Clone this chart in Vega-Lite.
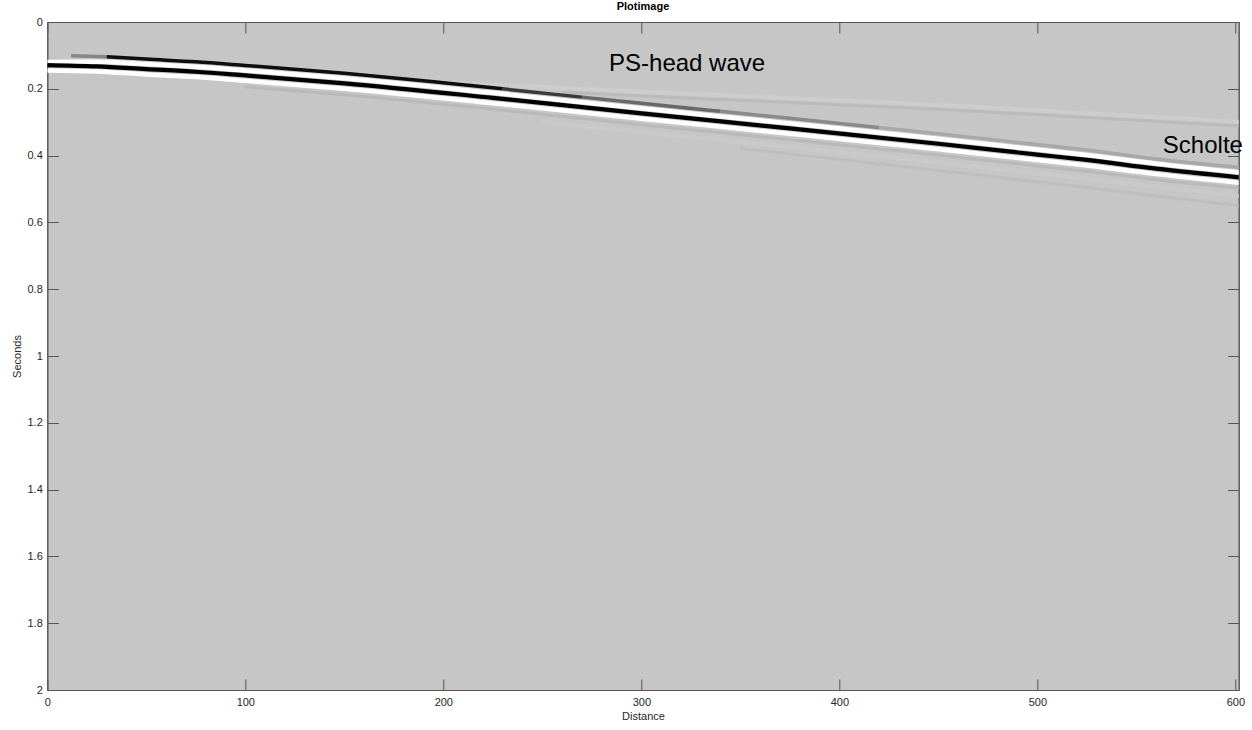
{
  "$schema": "https://vega.github.io/schema/vega-lite/v6.json",
  "autosize": {"type": "none"},
  "padding": {"left": 47.3, "top": 22, "right": 13.3, "bottom": 40},
  "width": 1191.4,
  "height": 668,
  "background": "white",
  "config": {
    "view": {"fill": "#c6c6c6", "stroke": "#555555", "strokeWidth": 1},
    "font": "Liberation Sans"
  },
  "title": {"text": "Plotimage", "fontSize": 11, "fontWeight": "bold", "font": "Liberation Sans", "color": "#000000", "offset": 4, "anchor": "middle"},
  "datasets": {
    "bands": [
      {"b": "main", "a": 1, "x": 0, "t": 0.129}, {"b": "main", "a": 1, "x": 25, "t": 0.133}, {"b": "main", "a": 1, "x": 50, "t": 0.141}, {"b": "main", "a": 1, "x": 75, "t": 0.149}, {"b": "main", "a": 1, "x": 100, "t": 0.16}, {"b": "main", "a": 1, "x": 150, "t": 0.1835}, {"b": "main", "a": 1, "x": 225, "t": 0.227}, {"b": "main", "a": 1, "x": 300, "t": 0.2735}, {"b": "main", "a": 1, "x": 375, "t": 0.3185}, {"b": "main", "a": 1, "x": 450, "t": 0.3645}, {"b": "main", "a": 1, "x": 500, "t": 0.397}, {"b": "main", "a": 1, "x": 525, "t": 0.413}, {"b": "main", "a": 1, "x": 560, "t": 0.439}, {"b": "main", "a": 1, "x": 602, "t": 0.465},
      {"b": "wlow", "a": -1, "x": 0, "t": 0.1455}, {"b": "wlow", "a": -1, "x": 25, "t": 0.1485}, {"b": "wlow", "a": -1, "x": 50, "t": 0.157}, {"b": "wlow", "a": -1, "x": 75, "t": 0.165}, {"b": "wlow", "a": -1, "x": 100, "t": 0.1762}, {"b": "wlow", "a": -1, "x": 150, "t": 0.1998}, {"b": "wlow", "a": -1, "x": 225, "t": 0.2433}, {"b": "wlow", "a": -1, "x": 300, "t": 0.2898}, {"b": "wlow", "a": -1, "x": 375, "t": 0.3348}, {"b": "wlow", "a": -1, "x": 450, "t": 0.381}, {"b": "wlow", "a": -1, "x": 500, "t": 0.4135}, {"b": "wlow", "a": -1, "x": 525, "t": 0.4295}, {"b": "wlow", "a": -1, "x": 560, "t": 0.4555}, {"b": "wlow", "a": -1, "x": 602, "t": 0.4815},
      {"b": "wup", "a": -1, "x": 0, "t": 0.1195}, {"b": "wup", "a": -1, "x": 25, "t": 0.119}, {"b": "wup", "a": -1, "x": 50, "t": 0.126}, {"b": "wup", "a": -1, "x": 75, "t": 0.134}, {"b": "wup", "a": -1, "x": 100, "t": 0.145}, {"b": "wup", "a": -1, "x": 150, "t": 0.1685}, {"b": "wup", "a": -1, "x": 225, "t": 0.212}, {"b": "wup", "a": -1, "x": 300, "t": 0.2585}, {"b": "wup", "a": -1, "x": 375, "t": 0.3035}, {"b": "wup", "a": -1, "x": 450, "t": 0.3495}, {"b": "wup", "a": -1, "x": 500, "t": 0.382}, {"b": "wup", "a": -1, "x": 525, "t": 0.398}, {"b": "wup", "a": -1, "x": 560, "t": 0.424}, {"b": "wup", "a": -1, "x": 602, "t": 0.45},
      {"b": "uppr", "a": 0.3, "x": 12, "t": 0.101}, {"b": "uppr", "a": 0.3, "x": 30, "t": 0.104},
      {"b": "uppr", "a": 0.95, "x": 30, "t": 0.104}, {"b": "uppr", "a": 0.95, "x": 50, "t": 0.111}, {"b": "uppr", "a": 0.95, "x": 75, "t": 0.119}, {"b": "uppr", "a": 0.95, "x": 100, "t": 0.13}, {"b": "uppr", "a": 0.95, "x": 150, "t": 0.1535}, {"b": "uppr", "a": 0.95, "x": 200, "t": 0.182}, {"b": "uppr", "a": 0.95, "x": 230, "t": 0.2001},
      {"b": "uppr", "a": 0.7, "x": 230, "t": 0.2001}, {"b": "uppr", "a": 0.7, "x": 270, "t": 0.2249},
      {"b": "uppr", "a": 0.45, "x": 270, "t": 0.2249}, {"b": "uppr", "a": 0.45, "x": 300, "t": 0.2435}, {"b": "uppr", "a": 0.45, "x": 340, "t": 0.2675},
      {"b": "uppr", "a": 0.28, "x": 340, "t": 0.2675}, {"b": "uppr", "a": 0.28, "x": 375, "t": 0.2885}, {"b": "uppr", "a": 0.28, "x": 420, "t": 0.3161},
      {"b": "uppr", "a": 0.14, "x": 420, "t": 0.3161}, {"b": "uppr", "a": 0.14, "x": 450, "t": 0.3345}, {"b": "uppr", "a": 0.14, "x": 500, "t": 0.367}, {"b": "uppr", "a": 0.14, "x": 525, "t": 0.383}, {"b": "uppr", "a": 0.14, "x": 560, "t": 0.41}, {"b": "uppr", "a": 0.14, "x": 602, "t": 0.435},
      {"b": "psL", "a": -0.13, "x": 200, "t": 0.18}, {"b": "psL", "a": -0.13, "x": 230, "t": 0.189}, {"b": "psL", "a": -0.13, "x": 300, "t": 0.2085}, {"b": "psL", "a": -0.13, "x": 375, "t": 0.228}, {"b": "psL", "a": -0.13, "x": 450, "t": 0.2485}, {"b": "psL", "a": -0.13, "x": 525, "t": 0.273}, {"b": "psL", "a": -0.13, "x": 602, "t": 0.2985},
      {"b": "psD", "a": 0.05, "x": 260, "t": 0.2103}, {"b": "psD", "a": 0.05, "x": 300, "t": 0.2215}, {"b": "psD", "a": 0.05, "x": 375, "t": 0.241}, {"b": "psD", "a": 0.05, "x": 450, "t": 0.2615}, {"b": "psD", "a": 0.05, "x": 525, "t": 0.286}, {"b": "psD", "a": 0.05, "x": 602, "t": 0.3115},
      {"b": "lowA", "a": 0.06, "x": 100, "t": 0.194}, {"b": "lowA", "a": 0.06, "x": 150, "t": 0.2175}, {"b": "lowA", "a": 0.06, "x": 225, "t": 0.261}, {"b": "lowA", "a": 0.06, "x": 300, "t": 0.3075}, {"b": "lowA", "a": 0.06, "x": 375, "t": 0.3525}, {"b": "lowA", "a": 0.06, "x": 450, "t": 0.3985}, {"b": "lowA", "a": 0.06, "x": 500, "t": 0.431}, {"b": "lowA", "a": 0.06, "x": 525, "t": 0.447}, {"b": "lowA", "a": 0.06, "x": 560, "t": 0.472}, {"b": "lowA", "a": 0.06, "x": 602, "t": 0.497},
      {"b": "lowB", "a": -0.08, "x": 250, "t": 0.2995}, {"b": "lowB", "a": -0.08, "x": 300, "t": 0.3295}, {"b": "lowB", "a": -0.08, "x": 375, "t": 0.3745}, {"b": "lowB", "a": -0.08, "x": 450, "t": 0.4205}, {"b": "lowB", "a": -0.08, "x": 525, "t": 0.469}, {"b": "lowB", "a": -0.08, "x": 602, "t": 0.521},
      {"b": "lowC", "a": 0.035, "x": 350, "t": 0.3785}, {"b": "lowC", "a": 0.035, "x": 450, "t": 0.4445}, {"b": "lowC", "a": 0.035, "x": 525, "t": 0.4955}, {"b": "lowC", "a": 0.035, "x": 602, "t": 0.55}
    ],
    "notes": [
      {"label": "PS-head wave", "x": 283.7, "t": 0.1458},
      {"label": "Scholte", "x": 563.4, "t": 0.393}
    ]
  },
  "data": {"name": "bands"},
  "resolve": {"axis": {"x": "independent", "y": "independent"}},
  "encoding": {
    "x": {"field": "x", "type": "quantitative", "scale": {"domain": [0, 601.7], "nice": false, "zero": false}, "axis": null},
    "y": {"field": "t", "type": "quantitative", "scale": {"domain": [0, 2], "reverse": true, "nice": false, "zero": false}, "axis": null},
    "color": {"field": "a", "type": "quantitative", "scale": {"domain": [-1, 0, 1], "range": ["#ffffff", "#c6c6c6", "#000000"]}, "legend": null}
  },
  "layer": [
    {"transform": [{"filter": "datum.b == 'lowC'"}], "mark": {"type": "line", "strokeWidth": 3, "interpolate": "monotone", "clip": true, "strokeCap": "butt"}, "encoding": {}},
    {"transform": [{"filter": "datum.b == 'lowB'"}], "mark": {"type": "line", "strokeWidth": 4, "interpolate": "monotone", "clip": true, "strokeCap": "butt"}, "encoding": {}},
    {"transform": [{"filter": "datum.b == 'lowA'"}], "mark": {"type": "line", "strokeWidth": 3, "interpolate": "monotone", "clip": true, "strokeCap": "butt"}, "encoding": {}},
    {"transform": [{"filter": "datum.b == 'psD'"}], "mark": {"type": "line", "strokeWidth": 3, "interpolate": "monotone", "clip": true, "strokeCap": "butt"}, "encoding": {}},
    {"transform": [{"filter": "datum.b == 'psL'"}], "mark": {"type": "line", "strokeWidth": 4, "interpolate": "monotone", "clip": true, "strokeCap": "butt"}, "encoding": {}},
    {"transform": [{"filter": "datum.b == 'uppr'"}], "mark": {"type": "line", "strokeWidth": 3.5, "interpolate": "monotone", "clip": true, "strokeCap": "butt"}, "encoding": {}},
    {"transform": [{"filter": "datum.b == 'wup'"}], "mark": {"type": "line", "strokeWidth": 4.5, "interpolate": "monotone", "clip": true, "strokeCap": "butt"}, "encoding": {}},
    {"transform": [{"filter": "datum.b == 'wlow'"}], "mark": {"type": "line", "strokeWidth": 4.5, "interpolate": "monotone", "clip": true, "strokeCap": "butt"},
      "encoding": {
        "x": {"field": "x", "type": "quantitative", "scale": {"domain": [0, 601.7], "nice": false, "zero": false},
          "axis": {"orient": "top", "values": [0, 100, 200, 300, 400, 500, 600], "labels": false, "title": null, "grid": false, "tickSize": -11, "tickColor": "#555555", "domainColor": "#555555"}},
        "y": {"field": "t", "type": "quantitative", "scale": {"domain": [0, 2], "reverse": true, "nice": false, "zero": false},
          "axis": {"orient": "right", "values": [0, 0.2, 0.4, 0.6, 0.8, 1, 1.2, 1.4, 1.6, 1.8, 2], "labels": false, "title": null, "grid": false, "tickSize": -11, "tickColor": "#555555", "domainColor": "#555555"}}
      }},
    {"transform": [{"filter": "datum.b == 'main'"}], "mark": {"type": "line", "strokeWidth": 4.2, "interpolate": "monotone", "clip": true, "strokeCap": "butt"},
      "encoding": {
        "x": {"field": "x", "type": "quantitative", "scale": {"domain": [0, 601.7], "nice": false, "zero": false},
          "axis": {"orient": "bottom", "values": [0, 100, 200, 300, 400, 500, 600], "format": "d", "title": "Distance", "grid": false, "tickSize": -11, "labelPadding": 17, "labelFlush": false, "tickColor": "#555555", "domainColor": "#555555", "labelColor": "#262626", "labelFont": "Liberation Sans", "labelFontSize": 11, "titleFont": "Liberation Sans", "titleFontSize": 11, "titleFontWeight": "normal", "titleColor": "#262626", "titlePadding": 3}},
        "y": {"field": "t", "type": "quantitative", "scale": {"domain": [0, 2], "reverse": true, "nice": false, "zero": false},
          "axis": {"orient": "left", "values": [0, 0.2, 0.4, 0.6, 0.8, 1, 1.2, 1.4, 1.6, 1.8, 2], "format": "~g", "title": "Seconds", "grid": false, "tickSize": -11, "labelPadding": 16, "labelFlush": false, "tickColor": "#555555", "domainColor": "#555555", "labelColor": "#262626", "labelFont": "Liberation Sans", "labelFontSize": 11, "titleFont": "Liberation Sans", "titleFontSize": 11, "titleFontWeight": "normal", "titleColor": "#262626", "titlePadding": 5}}
      }},
    {"data": {"name": "notes"}, "mark": {"type": "text", "align": "left", "baseline": "alphabetic", "fontSize": 24, "font": "Liberation Sans"},
      "encoding": {"text": {"field": "label"}, "color": {"value": "#000000"}}}
  ]
}
